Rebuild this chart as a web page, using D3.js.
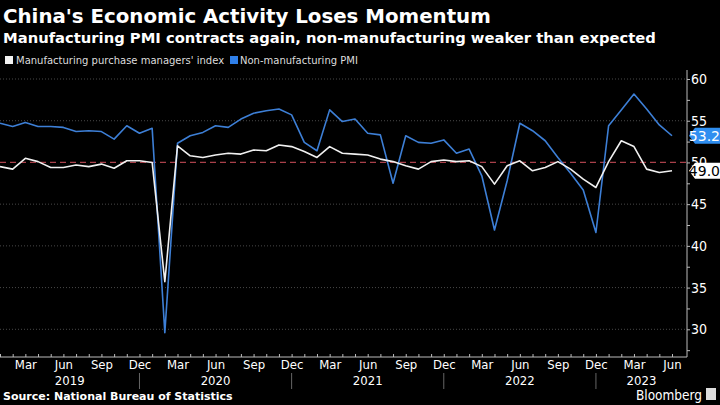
<!DOCTYPE html>
<html>
<head>
<meta charset="utf-8">
<script src="https://cdn.jsdelivr.net/npm/d3@7"></script>
<style>
  body { margin: 0; background: #000; }
  svg { display: block; }
  text { font-family: "DejaVu Sans", sans-serif; fill: #fff; }
  .tick text, .cond { font-family: "DejaVu Sans Condensed", "DejaVu Sans", sans-serif; }
</style>
</head>
<body>
<script>
// monthly readings, Jan 2019 .. Jun 2023
var startYear = 2019;
var manufacturing = [
    49.5, 49.2, 50.5, 50.1, 49.4, 49.4, 49.7, 49.5, 49.8, 49.3, 50.2, 50.2,
    50.0, 35.7, 52.0, 50.8, 50.6, 50.9, 51.1, 51.0, 51.5, 51.4, 52.1, 51.9,
    51.3, 50.6, 51.9, 51.1, 51.0, 50.9, 50.4, 50.1, 49.6, 49.2, 50.1, 50.3,
    50.1, 50.2, 49.5, 47.4, 49.6, 50.2, 49.0, 49.4, 50.1, 49.2, 48.0, 47.0,
    50.1, 52.6, 51.9, 49.2, 48.8, 49.0
];
var nonManufacturing = [
    54.7, 54.3, 54.8, 54.3, 54.3, 54.2, 53.7, 53.8, 53.7, 52.8, 54.4, 53.5,
    54.1, 29.6, 52.3, 53.2, 53.6, 54.4, 54.2, 55.2, 55.9, 56.2, 56.4, 55.7,
    52.4, 51.4, 56.3, 54.9, 55.2, 53.5, 53.3, 47.5, 53.2, 52.4, 52.3, 52.7,
    51.1, 51.6, 48.4, 41.9, 47.8, 54.7, 53.8, 52.6, 50.6, 48.7, 46.7, 41.6,
    54.4, 56.3, 58.2, 56.4, 54.5, 53.2
];
var years = [2019, 2020, 2021, 2022, 2023];
var yTicks = [30, 35, 40, 45, 50, 55, 60];
var monthNames = ["Jan", "Feb", "Mar", "Apr", "May", "Jun", "Jul", "Aug", "Sep", "Oct", "Nov", "Dec"];

var width = 720;
var height = 405;

var dates = manufacturing.map(function(d, i) { return new Date(startYear, i, 1); });

var svg = d3.select("body")
    .append("svg")
    .attr("width", width)
    .attr("height", height);

var plotRight = 687;
var plotTop = 70;
var plotBottom = 357;

var x = d3.scaleLinear()
    .domain([0, dates.length - 1])
    .range([0, 672]);

var y = d3.scaleLinear()
    .domain([26.68, 61.08])
    .range([plotBottom, plotTop]);

// titles
svg.append("text")
    .attr("x", 3).attr("y", 23)
    .attr("font-size", 19.8).attr("font-weight", "bold")
    .text("China's Economic Activity Loses Momentum");

svg.append("text")
    .attr("x", 3).attr("y", 43)
    .attr("font-size", 14.75).attr("font-weight", "bold")
    .text("Manufacturing PMI contracts again, non-manufacturing weaker than expected");

// legend
var legend = svg.append("g").attr("transform", "translate(5,56)");
legend.append("rect").attr("width", 8).attr("height", 8).attr("fill", "#f2f2f2");
legend.append("text").attr("x", 11).attr("y", 8).attr("font-size", 10)
    .style("fill", "#ddd")
    .text("Manufacturing purchase managers' index");
legend.append("rect").attr("x", 225).attr("width", 8).attr("height", 8).attr("fill", "#2f7fe8");
legend.append("text").attr("x", 235).attr("y", 8).attr("font-size", 10)
    .style("fill", "#ddd")
    .text("Non-manufacturing PMI");

// grid
svg.append("g")
    .selectAll("line")
    .data(yTicks.filter(function(d) { return d != 50; }))
    .enter().append("line")
    .attr("x1", 0).attr("x2", plotRight)
    .attr("y1", function(d) { return y(d); })
    .attr("y2", function(d) { return y(d); })
    .attr("stroke", "#5a5a5a")
    .attr("stroke-width", 0.8)
    .attr("stroke-dasharray", "1,2");

svg.append("line")
    .attr("x1", 0).attr("x2", plotRight)
    .attr("y1", y(50)).attr("y2", y(50))
    .attr("stroke", "#a8404a")
    .attr("stroke-width", 1.2)
    .attr("stroke-dasharray", "6,4");

// y axis on the right
var yAxis = svg.append("g")
    .attr("transform", "translate(" + plotRight + ",0)")
    .call(d3.axisRight(y)
        .tickValues(d3.range(27.5, 61, 2.5))
        .tickSize(3)
        .tickFormat(function(d) { return d % 5 == 0 ? d : ""; }));
yAxis.select(".domain").attr("stroke", "#bbb").attr("d", "M0," + plotBottom + "V" + plotTop);
yAxis.selectAll(".tick line").attr("stroke", "#bbb");
yAxis.selectAll(".tick text").attr("font-size", 14).attr("x", 4);

// x axis
var xAxis = svg.append("g")
    .attr("transform", "translate(0," + plotBottom + ")")
    .call(d3.axisBottom(x)
        .tickValues(d3.range(0, dates.length))
        .tickSize(-3)
        .tickFormat(function(i) { return dates[i].getMonth() % 3 == 2 ? monthNames[dates[i].getMonth()] : ""; }));
xAxis.select(".domain").attr("stroke", "#bbb").attr("d", "M0,0H" + plotRight);
xAxis.selectAll(".tick line").attr("stroke", "#bbb");
xAxis.selectAll(".tick text").attr("font-size", 13).attr("y", 3);

// year dividers and labels
var decIdx = d3.range(0, dates.length).filter(function(i) { return dates[i].getMonth() == 11; });
svg.append("g")
    .selectAll("line")
    .data(decIdx)
    .enter().append("line")
    .attr("x1", function(i) { return x(i); })
    .attr("x2", function(i) { return x(i); })
    .attr("y1", 373).attr("y2", 389)
    .attr("stroke", "#666");

svg.append("g")
    .selectAll("text")
    .data(years)
    .enter().append("text")
    .attr("class", "cond")
    .attr("x", function(yr) {
        var a = Math.max(0, x((yr - startYear) * 12 - 1));
        var b = Math.min(plotRight, x((yr - startYear) * 12 + 11));
        return (a + b) / 2;
    })
    .attr("y", 385)
    .attr("text-anchor", "middle")
    .attr("font-size", 13)
    .text(function(d) { return d; });

// lines
var line = function(values) {
    return d3.line()
        .x(function(d, i) { return x(i); })
        .y(function(d) { return y(d); })(values);
};

svg.append("path")
    .attr("d", line(nonManufacturing))
    .attr("fill", "none")
    .attr("stroke", "#3d7fd6")
    .attr("stroke-width", 1.6)
    .attr("stroke-linejoin", "round");

svg.append("path")
    .attr("d", line(manufacturing))
    .attr("fill", "none")
    .attr("stroke", "#f0f0f0")
    .attr("stroke-width", 1.6)
    .attr("stroke-linejoin", "round");

// last value tags
function tag(value, bg, fg) {
    var cy = y(value);
    var g = svg.append("g").attr("transform", "translate(" + (plotRight + 2) + "," + cy + ")");
    g.append("path")
        .attr("d", "M0,0L6,-8H33V8H6Z")
        .attr("fill", bg);
    g.append("text")
        .attr("x", 31).attr("y", 5)
        .attr("text-anchor", "end")
        .attr("font-size", 14)
        .style("fill", fg)
        .text(value.toFixed(1));
}
tag(nonManufacturing[nonManufacturing.length - 1], "#2f8ef0", "#fff");
tag(manufacturing[manufacturing.length - 1], "#fff", "#000");

// footer
svg.append("text")
    .attr("x", 3).attr("y", 400)
    .attr("font-size", 11).attr("font-weight", "bold")
    .text("Source: National Bureau of Statistics");

svg.append("text")
    .attr("class", "cond")
    .attr("x", 702).attr("y", 400)
    .attr("text-anchor", "end")
    .attr("font-size", 13.5)
    .text("Bloomberg");
svg.append("rect")
    .attr("x", 706).attr("y", 388).attr("width", 10).attr("height", 12)
    .attr("fill", "#ddd");
</script>
</body>
</html>
